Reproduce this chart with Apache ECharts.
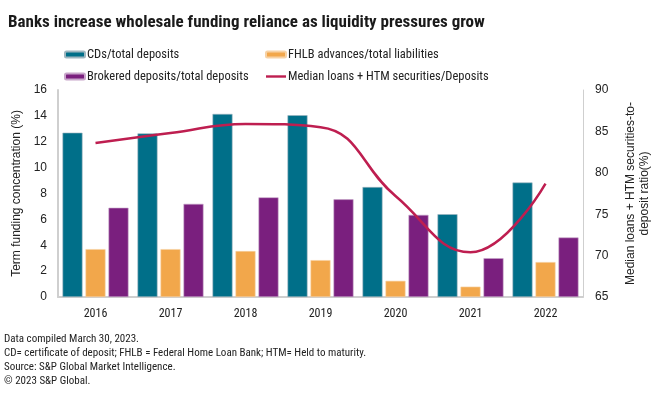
<!DOCTYPE html>
<html>
<head>
<meta charset="utf-8">
<script src="https://cdn.jsdelivr.net/npm/echarts@6/dist/echarts.min.js"></script>
<style>
  html, body { margin: 0; padding: 0; background: #fff; }
  #main { width: 660px; height: 399px; }
</style>
</head>
<body>
<div id="main"></div>
<script>
// chart data
var years = ['2016', '2017', '2018', '2019', '2020', '2021', '2022'];
var cdsDeposits = [12.7, 12.65, 14.15, 14.05, 8.5, 6.4, 8.85];
var fhlbAdvances = [3.7, 3.7, 3.55, 2.85, 1.25, 0.8, 2.7];
var brokeredDeposits = [6.9, 7.2, 7.7, 7.55, 6.35, 3.0, 4.6];
var loanDepositRatio = [83.6, 84.8, 85.9, 85.5, 77.2, 70.4, 78.7];

var narrow = '"Liberation Sans Narrow", "Roboto Condensed", "Liberation Sans", Arial, sans-serif';
var plain = '"Liberation Sans", Arial, sans-serif';

var myChart = echarts.init(document.getElementById('main'));

var option = {
  animation: false,
  title: {
    text: 'Banks increase wholesale funding reliance as liquidity pressures grow',
    left: 3,
    top: 9,
    textStyle: { fontFamily: narrow, fontSize: 17, fontWeight: 'bold', color: '#1a1a1a' }
  },
  legend: [
    {
      left: 64, top: 48, orient: 'vertical', itemGap: 9, padding: 0,
      itemWidth: 20, itemHeight: 6,
      textStyle: { fontFamily: narrow, fontSize: 12.5, color: '#222', padding: [0, 0, 0, -3] },
      data: [{ name: 'CDs/total deposits' }, { name: 'Brokered deposits/total deposits' }]
    },
    {
      left: 265, top: 48, orient: 'vertical', itemGap: 9, padding: 0,
      itemWidth: 20, itemHeight: 6,
      textStyle: { fontFamily: narrow, fontSize: 12.5, color: '#222', padding: [0, 0, 0, -3] },
      data: [{ name: 'FHLB advances/total liabilities' },
             { name: 'Median loans + HTM securities/Deposits', icon: 'path://M0,0H20V2.4H0Z' }]
    }
  ],
  grid: { left: 58, right: 68, top: 90, bottom: 102 },
  xAxis: {
    type: 'category',
    data: years,
    axisLine: { lineStyle: { color: '#cfcfcf', width: 2 } },
    axisTick: { show: false },
    axisLabel: { fontFamily: narrow, fontSize: 12, color: '#222', margin: 11 }
  },
  yAxis: [
    {
      type: 'value', min: 0, max: 16, interval: 2,
      name: 'Term funding concentration (%)',
      nameLocation: 'middle', nameRotate: 90, nameGap: 34,
      nameTextStyle: { fontFamily: plain, fontSize: 12, color: '#222' },
      axisLine: { show: true, lineStyle: { color: '#cfcfcf', width: 2 } },
      axisTick: { show: false },
      splitLine: { show: false },
      axisLabel: { fontFamily: plain, fontSize: 12, color: '#222', margin: 11 }
    },
    {
      type: 'value', min: 65, max: 90, interval: 5,
      name: 'Median loans + HTM securities-to-\ndeposit ratio(%)',
      nameLocation: 'middle', nameRotate: 90, nameGap: 41,
      nameTextStyle: { fontFamily: plain, fontSize: 12, color: '#222', lineHeight: 14, align: 'center' },
      axisLine: { show: true, lineStyle: { color: '#cfcfcf', width: 1 } },
      axisTick: { show: false },
      splitLine: { show: false },
      axisLabel: { fontFamily: plain, fontSize: 12, color: '#222', margin: 12 }
    }
  ],
  series: [
    {
      name: 'CDs/total deposits', type: 'bar', data: cdsDeposits,
      barWidth: 20, barGap: '15%', barCategoryGap: '13%',
      itemStyle: { color: '#006f89', borderColor: '#9fb6bf', borderWidth: 0.6 }
    },
    {
      name: 'FHLB advances/total liabilities', type: 'bar', data: fhlbAdvances,
      barWidth: 20, barGap: '15%',
      itemStyle: { color: '#f2a74b', borderColor: '#f7d2a5', borderWidth: 0.6 }
    },
    {
      name: 'Brokered deposits/total deposits', type: 'bar', data: brokeredDeposits,
      barWidth: 20, barGap: '15%',
      itemStyle: { color: '#7a1f7e', borderColor: '#c8a6ca', borderWidth: 0.6 }
    },
    {
      name: 'Median loans + HTM securities/Deposits', type: 'line', yAxisIndex: 1,
      data: loanDepositRatio, smooth: 0.45, symbol: 'none',
      lineStyle: { color: '#be1e50', width: 2.5 },
      itemStyle: { color: '#be1e50' }
    }
  ],
  graphic: [
    {
      type: 'group', left: 4, top: 334,
      children: [
        { type: 'text', top: 0, style: { text: 'Data compiled March 30, 2023.', font: '11px ' + narrow, fill: '#222' } },
        { type: 'text', top: 14, style: { text: 'CD= certificate of deposit; FHLB = Federal Home Loan Bank; HTM= Held to maturity.', font: '11px ' + narrow, fill: '#222' } },
        { type: 'text', top: 28, style: { text: 'Source: S&P Global Market Intelligence.', font: '11px ' + narrow, fill: '#222' } },
        { type: 'text', top: 42, style: { text: '\u00a9 2023 S&P Global.', font: '11px ' + narrow, fill: '#222' } }
      ]
    }
  ]
};

myChart.setOption(option);
</script>
</body>
</html>
